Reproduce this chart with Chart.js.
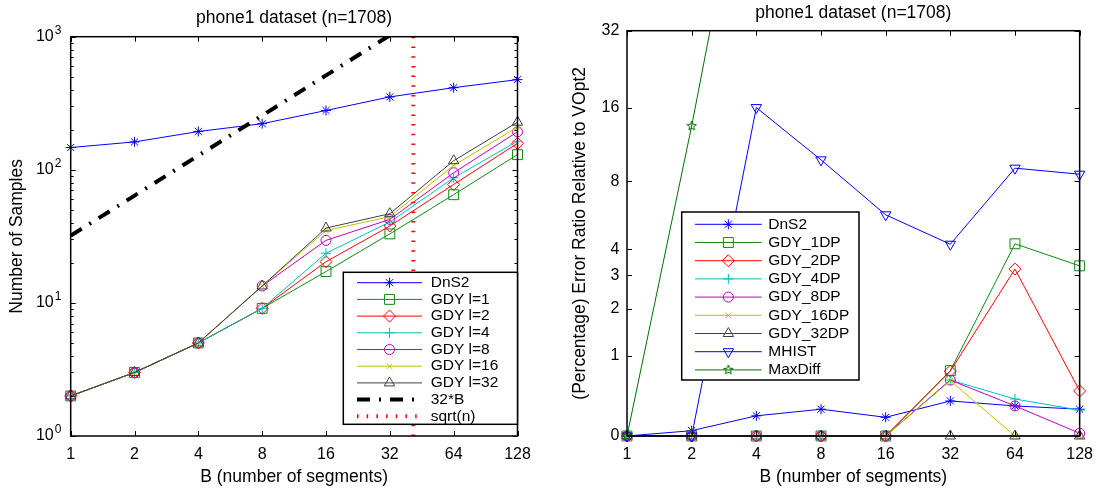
<!DOCTYPE html>
<html>
<head>
<meta charset="utf-8">
<script src="https://cdn.jsdelivr.net/npm/chart.js@4.4.1/dist/chart.umd.min.js"></script>
<style>
  html, body { margin: 0; padding: 0; background: #fff; }
  #wrap { position: relative; width: 1102px; height: 493px; overflow: hidden; }
  canvas { position: absolute; top: 0; }
  #left { left: 0; }
  #right { left: 551px; }
</style>
</head>
<body>
<div id="wrap">
  <canvas id="left" width="551" height="493"></canvas>
  <canvas id="right" width="551" height="493"></canvas>
</div>
<script>
const FONT = "'Liberation Sans', Arial, Helvetica, sans-serif";

// B (number of segments), shared by both panels
const segments = [1, 2, 4, 8, 16, 32, 64, 128];

// left panel: number of samples
const dns2Samples = [147, 162, 194, 222, 279, 353, 414, 476];
const gdyL1 = [2, 3, 5, 9.1, 17.2, 33, 65, 130];
const gdyL2 = [2, 3, 5, 9.1, 20.4, 37.8, 77.6, 158];
const gdyL4 = [2, 3, 5, 9.1, 23.6, 40.5, 87, 164];
const gdyL8 = [2, 3, 5, 13.4, 29.5, 42.4, 95, 193];
const gdyL16 = [2, 3, 5, 13.4, 35, 44.4, 108, 209];
const gdyL32 = [2, 3, 5, 13.4, 36.5, 46.8, 117, 228];
const line32B = [32, 64, 128, 256, 512, 1024];
const sqrtN = 41.3;
const leftYTicks = [1, 10, 100, 1000];

// right panel: (percentage) error ratio relative to VOpt2
const dns2Err = [0, 0.047, 0.19, 0.26, 0.175, 0.353, 0.296, 0.26];
const gdy1DP = [0, 0, 0, 0, 0, 0.757, 4.25, 3.34];
const gdy2DP = [0, 0, 0, 0, 0, 0.75, 3.22, 0.475];
const gdy4DP = [0, 0, 0, 0, 0, 0.62, 0.376, 0.25];
const gdy8DP = [0, 0, 0, 0, 0, 0.62, 0.296, 0.024];
const gdy16DP = [0, 0, 0, 0, 0, 0.61, 0, 0];
const gdy32DP = [0, 0, 0, 0, 0, 0, 0, 0];
const mhist = [0, 0, 16.0, 9.83, 5.74, 4.23, 9.08, 8.57];
const maxDiff = [0, 13.5, 260];
const rightYTicks = [0, 1, 2, 3, 4, 8, 16, 32];

const BLUE = '#0000ff', GREEN = '#108a10', RED = '#ff0000', CYAN = '#00bfbf',
      MAGENTA = '#bf00bf', YELLOW = '#bfbf00', GRAY = '#404040', DKGREEN = '#007000';

Chart.defaults.font.family = FONT;
Chart.defaults.color = '#000';

function makePentagram(color, r) {
  const c = document.createElement('canvas');
  const s = Math.ceil(r * 2 + 4);
  c.width = s; c.height = s;
  const g = c.getContext('2d');
  g.strokeStyle = color;
  g.lineWidth = 1;
  g.beginPath();
  for (let i = 0; i < 10; i++) {
    const a = -Math.PI / 2 + i * Math.PI / 5;
    const rr = i % 2 === 0 ? r : r * 0.42;
    const px = s / 2 + rr * Math.cos(a), py = s / 2 + rr * Math.sin(a);
    if (i === 0) g.moveTo(px, py); else g.lineTo(px, py);
  }
  g.closePath();
  g.stroke();
  return c;
}

// y transform for the right panel (axis is spaced as log2(1 + v))
const warp = v => Math.log2(1 + v);

function series(label, values, color, style, radius, extra, tf) {
  const f = tf || (v => v);
  return Object.assign({
    label,
    data: values.map((v, i) => ({ x: segments[i], y: v == null ? null : f(v) })),
    borderColor: color,
    backgroundColor: color,
    borderWidth: 1,
    borderDash: [],
    pointStyle: style,
    pointRadius: radius,
    pointRotation: 0,
    pointBorderColor: color,
    pointBackgroundColor: 'rgba(0,0,0,0)',
    pointBorderWidth: 1,
    tension: 0,
    fill: false,
    clip: { left: 10, right: 10, top: 0, bottom: 10 }
  }, extra || {});
}

// box, inner tick marks, superscript labels and legend, matlab style
const framePlugin = {
  id: 'frame',
  afterDraw(chart, args, opts) {
    const ctx = chart.ctx;
    const a = chart.chartArea;
    const xs = chart.scales.x, ys = chart.scales.y;
    ctx.save();
    ctx.strokeStyle = '#000';
    ctx.lineWidth = 1;
    ctx.beginPath();
    xs.ticks.forEach(t => {
      const px = Math.round(xs.getPixelForValue(t.value)) + 0.5;
      ctx.moveTo(px, a.bottom); ctx.lineTo(px, a.bottom - 5);
      ctx.moveTo(px, a.top); ctx.lineTo(px, a.top + 5);
    });
    ys.ticks.forEach(t => {
      const py = Math.round(ys.getPixelForValue(t.value)) + 0.5;
      ctx.moveTo(a.left, py); ctx.lineTo(a.left + 5, py);
      ctx.moveTo(a.right, py); ctx.lineTo(a.right - 5, py);
    });
    if (opts.logMinor) {
      for (let d = 1; d < 1000; d *= 10) {
        for (let k = 2; k <= 9; k++) {
          const py = Math.round(ys.getPixelForValue(d * k)) + 0.5;
          ctx.moveTo(a.left, py); ctx.lineTo(a.left + 3, py);
          ctx.moveTo(a.right, py); ctx.lineTo(a.right - 3, py);
        }
      }
    }
    ctx.stroke();
    ctx.lineWidth = 1.5;
    ctx.strokeRect(a.left, a.top, a.right - a.left, a.bottom - a.top);

    if (opts.powerLabels) {
      ctx.fillStyle = '#000';
      opts.powerLabels.forEach(v => {
        const py = ys.getPixelForValue(v);
        ctx.font = '16px ' + FONT;
        ctx.textAlign = 'right';
        ctx.textBaseline = 'middle';
        ctx.fillText('10', a.left - 17, py);
        ctx.font = '12px ' + FONT;
        ctx.textAlign = 'left';
        ctx.textBaseline = 'alphabetic';
        ctx.fillText(String(Math.round(Math.log10(v))), a.left - 16, py - 3);
      });
    }

    const lg = opts.legend;
    if (lg) {
      ctx.fillStyle = '#fff';
      ctx.fillRect(lg.x, lg.y, lg.w, lg.h);
      ctx.lineWidth = 1.5;
      ctx.strokeStyle = '#000';
      ctx.strokeRect(lg.x, lg.y, lg.w, lg.h);
      chart.data.datasets.forEach((ds, i) => {
        const ry = lg.firstRow + i * lg.rowH;
        ctx.save();
        ctx.strokeStyle = ds.borderColor;
        ctx.lineWidth = ds.borderWidth;
        ctx.setLineDash(ds.borderDash || []);
        ctx.beginPath();
        ctx.moveTo(lg.lineX0, ry); ctx.lineTo(lg.lineX1, ry);
        ctx.stroke();
        ctx.setLineDash([]);
        if (ds.pointRadius > 0) {
          ctx.strokeStyle = ds.pointBorderColor;
          ctx.fillStyle = 'rgba(0,0,0,0)';
          ctx.lineWidth = 1;
          Chart.helpers.drawPoint(ctx, {
            pointStyle: ds.pointStyle, radius: ds.pointRadius,
            rotation: ds.pointRotation || 0, borderWidth: 1
          }, (lg.lineX0 + lg.lineX1) / 2, ry);
        }
        ctx.restore();
        ctx.fillStyle = '#000';
        ctx.font = '15.5px ' + FONT;
        ctx.textAlign = 'left';
        ctx.textBaseline = 'middle';
        ctx.fillText(ds.label, lg.textX, ry);
      });
    }
    ctx.restore();
  }
};

function xScale(titlePadBottom) {
  return {
    type: 'logarithmic',
    min: 1, max: 128,
    afterBuildTicks: s => { s.ticks = segments.map(v => ({ value: v })); },
    afterFit: s => { s.height = 57; },
    grid: { display: false, drawTicks: false },
    border: { display: false },
    ticks: {
      autoSkip: false, maxRotation: 0, padding: 9,
      font: { size: 16 },
      callback: v => String(v)
    },
    title: {
      display: true, text: 'B (number of segments)',
      font: { size: 17.5 }, padding: { top: 0, bottom: titlePadBottom }
    }
  };
}

function withOrder(list) {
  return list.map((ds, i) => Object.assign(ds, { order: list.length - i }));
}

// ---------- left panel ----------
const leftData = withOrder([
  series('DnS2', dns2Samples, BLUE, 'star', 5),
  series('GDY l=1', gdyL1, GREEN, 'rect', 7),
  series('GDY l=2', gdyL2, RED, 'rectRot', 6),
  series('GDY l=4', gdyL4, CYAN, 'cross', 5),
  series('GDY l=8', gdyL8, MAGENTA, 'circle', 5),
  series('GDY l=16', gdyL16, YELLOW, 'crossRot', 4),
  series('GDY l=32', gdyL32, GRAY, 'triangle', 6),
  series('32*B', line32B, '#000', 'circle', 0,
    { borderWidth: 4, borderDash: [13, 9, 2, 9], borderCapStyle: 'butt' }),
  {
    label: 'sqrt(n)',
    data: [{ x: sqrtN, y: 1 }, { x: sqrtN, y: 1000 }],
    borderColor: RED, backgroundColor: RED, borderWidth: 4, borderDash: [1.5, 8.2],
    pointRadius: 0, tension: 0, fill: false, clip: 0
  }
]);

new Chart(document.getElementById('left'), {
  type: 'line',
  data: { datasets: leftData },
  options: {
    responsive: false, animation: false, devicePixelRatio: 1, events: [],
    layout: { padding: { left: 0, right: 33.5, top: 0, bottom: 0 } },
    scales: {
      x: xScale(5.5),
      y: {
        type: 'logarithmic',
        min: 1, max: 1000,
        afterBuildTicks: s => { s.ticks = leftYTicks.map(v => ({ value: v })); },
        afterFit: s => { s.width = 70.7; },
        grid: { display: false, drawTicks: false },
        border: { display: false },
        ticks: { display: false },
        title: {
          display: true, text: 'Number of Samples',
          font: { size: 17.5 }, padding: { top: 6.5, bottom: 0 }
        }
      }
    },
    plugins: {
      legend: { display: false },
      tooltip: { enabled: false },
      title: {
        display: true, text: 'phone1 dataset (n=1708)', fullSize: false,
        font: { size: 17.5, weight: 'normal' }, color: '#000',
        padding: { top: 7.8, bottom: 7.9 }
      },
      frame: {
        logMinor: true,
        powerLabels: leftYTicks,
        legend: { x: 343.3, y: 272.3, w: 174.2, h: 152, firstRow: 282.7, rowH: 16.7,
                  lineX0: 357, lineX1: 422, textX: 430.7 }
      }
    }
  },
  plugins: [framePlugin]
});

// ---------- right panel ----------
const rightData = withOrder([
  series('DnS2', dns2Err, BLUE, 'star', 5, null, warp),
  series('GDY_1DP', gdy1DP, GREEN, 'rect', 7, null, warp),
  series('GDY_2DP', gdy2DP, RED, 'rectRot', 6, null, warp),
  series('GDY_4DP', gdy4DP, CYAN, 'cross', 5, null, warp),
  series('GDY_8DP', gdy8DP, MAGENTA, 'circle', 5, null, warp),
  series('GDY_16DP', gdy16DP, YELLOW, 'crossRot', 4, null, warp),
  series('GDY_32DP', gdy32DP, GRAY, 'triangle', 6, null, warp),
  series('MHIST', mhist, BLUE, 'triangle', 6, { pointRotation: 180 }, warp),
  series('MaxDiff', maxDiff, DKGREEN, makePentagram(DKGREEN, 5), 5, null, warp)
]);

new Chart(document.getElementById('right'), {
  type: 'line',
  data: { datasets: rightData },
  options: {
    responsive: false, animation: false, devicePixelRatio: 1, events: [],
    layout: { padding: { left: 10, right: 22, top: 0, bottom: 0 } },
    scales: {
      x: xScale(5.5),
      y: {
        type: 'linear',
        min: 0, max: warp(32),
        afterBuildTicks: s => { s.ticks = rightYTicks.map(v => ({ value: warp(v) })); },
        afterFit: s => { s.width = 66; },
        grid: { display: false, drawTicks: false },
        border: { display: false },
        ticks: {
          padding: 7.7, font: { size: 16 },
          callback: (v, i) => String(rightYTicks[i])
        },
        title: {
          display: true, text: '(Percentage) Error Ratio Relative to VOpt2',
          font: { size: 17.5 }, padding: { top: 8.5, bottom: 0 }
        }
      }
    },
    plugins: {
      legend: { display: false },
      tooltip: { enabled: false },
      title: {
        display: true, text: 'phone1 dataset (n=1708)', fullSize: false,
        font: { size: 17.5, weight: 'normal' }, color: '#000',
        padding: { top: 2.8, bottom: 6.9 }
      },
      frame: {
        legend: { x: 130.7, y: 212, w: 177.3, h: 168, firstRow: 224.3, rowH: 18.2,
                  lineX0: 144, lineX1: 210.7, textX: 217.3 }
      }
    }
  },
  plugins: [framePlugin]
});
</script>
</body>
</html>
